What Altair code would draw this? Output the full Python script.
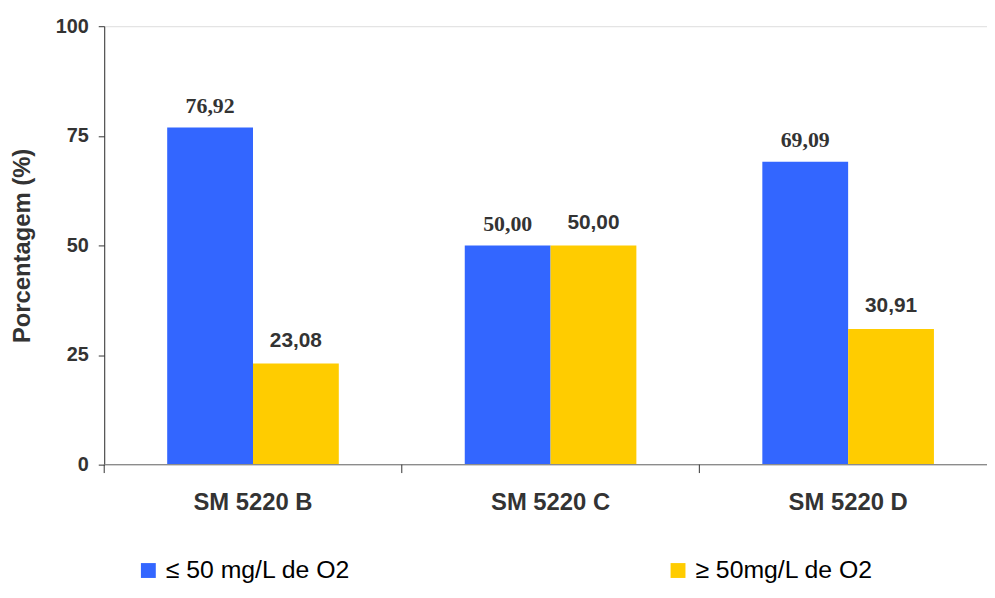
import altair as alt
import pandas as pd

categories = ["SM 5220 B", "SM 5220 C", "SM 5220 D"]
series = ["≤ 50 mg/L de O2", "≥ 50mg/L de O2"]
low_vals = [76.92, 50.00, 69.09]
high_vals = [23.08, 50.00, 30.91]
colors = ["#3366FF", "#FFCC00"]
y_ticks = [0, 25, 50, 75, 100]
baseline = [0]

rows = []
for c, lo, hi in zip(categories, low_vals, high_vals):
    rows.append({"cat": c, "serie": series[0], "value": lo,
                 "label": f"{lo:.2f}".replace(".", ",")})
    rows.append({"cat": c, "serie": series[1], "value": hi,
                 "label": f"{hi:.2f}".replace(".", ",")})
df = pd.DataFrame(rows)
cat_df = pd.DataFrame({"cat": categories})
base_df = pd.DataFrame({"value": baseline})

FONT = "Liberation Sans"
W = 890

x_scale = alt.Scale(domain=categories, range=[0, 900], paddingInner=0, paddingOuter=0)
xo_scale = alt.Scale(domain=series, paddingInner=0, paddingOuter=0.734)
y_scale = alt.Scale(domain=[0, 100], nice=False)

x_enc = alt.X("cat:N", scale=x_scale, sort=categories, title=None,
              axis=alt.Axis(labelFont=FONT, labelFontSize=24, labelFontWeight="bold",
                            labelColor="#333333", labelPadding=26, ticks=False,
                            domain=False, labelAngle=0))
y_enc = alt.Y("value:Q", scale=y_scale, title="Porcentagem (%)",
              axis=alt.Axis(values=y_ticks, grid=False, labelFont=FONT, labelFontSize=20,
                            labelFontWeight="bold", labelColor="#333333", tickSize=6,
                            labelPadding=10, tickColor="#333333", domainColor="#333333",
                            titleFont=FONT, titleFontSize=24, titleFontWeight="bold",
                            titleColor="#333333", titlePadding=21))

bars = alt.Chart(df).mark_bar().encode(
    x=x_enc,
    xOffset=alt.XOffset("serie:N", scale=xo_scale, sort=series),
    y=y_enc,
    color=alt.Color("serie:N", sort=series,
                    scale=alt.Scale(domain=series, range=colors),
                    legend=alt.Legend(title=None, orient="none", legendX=32, legendY=536,
                                      direction="horizontal", columns=2, columnPadding=317,
                                      symbolType="square", symbolSize=225,
                                      symbolStrokeWidth=0, labelFont=FONT,
                                      labelFontSize=25, labelColor="#000000",
                                      labelOffset=5, labelLimit=500, padding=0)),
)

lbl_low = alt.Chart(df[df["serie"] == series[0]]).mark_text(
    font="Liberation Serif", fontSize=22, fontWeight="bold", color="#333333",
    baseline="alphabetic", dy=-15
).encode(
    x=alt.X("cat:N", scale=x_scale, sort=categories),
    xOffset=alt.XOffset("serie:N", scale=xo_scale, sort=series),
    y=alt.Y("value:Q", scale=y_scale),
    text="label:N",
)

lbl_high = alt.Chart(df[df["serie"] == series[1]]).mark_text(
    font=FONT, fontSize=21, fontWeight="bold", color="#333333",
    baseline="alphabetic", dy=-17
).encode(
    x=alt.X("cat:N", scale=x_scale, sort=categories),
    xOffset=alt.XOffset("serie:N", scale=xo_scale, sort=series),
    y=alt.Y("value:Q", scale=y_scale),
    text="label:N",
)

base_rule = alt.Chart(base_df).mark_rule(color="#8C8C8C", strokeWidth=1.5).encode(
    x=alt.value(0),
    x2=alt.value(W),
    y=alt.Y("value:Q", scale=y_scale),
)

edge_ticks = alt.Chart(cat_df).mark_rule(color="#333333", strokeWidth=1).encode(
    x=alt.X("cat:N", scale=x_scale, sort=categories, bandPosition=0),
    y=alt.value(442),
    y2=alt.value(450.5),
)

chart = alt.layer(bars, lbl_low, lbl_high, base_rule, edge_ticks).properties(
    width=W, height=442,
    autosize=alt.AutoSizeParams(type="none"),
    padding={"left": 97, "top": 16, "right": 0, "bottom": 120},
).configure_view(stroke=None).configure(background="white")

chart.save("out.html", embed_options={"renderer": "svg", "actions": False})
